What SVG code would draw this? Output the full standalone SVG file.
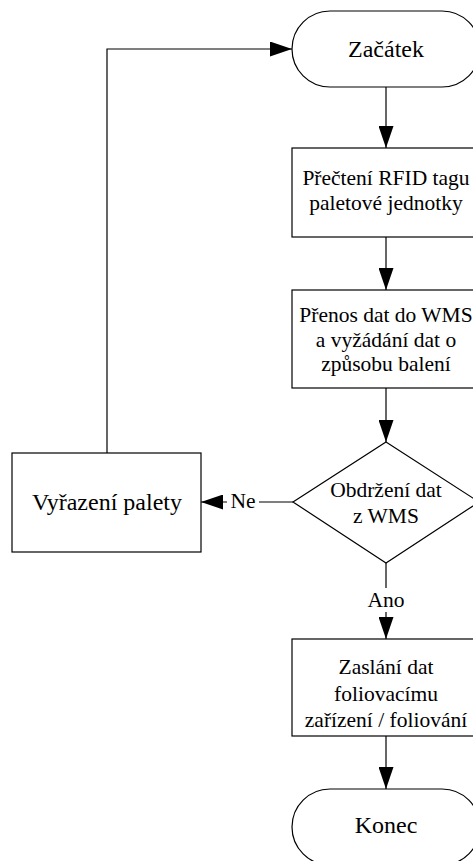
<svg xmlns="http://www.w3.org/2000/svg" width="473" height="861" viewBox="0 0 473 861">
  <style>
    .shape { fill: #ffffff; stroke: #000000; stroke-width: 1.2; }
    .line { fill: none; stroke: #000000; stroke-width: 1.2; }
    text { font-family: "Liberation Serif", "Times New Roman", serif; font-size: 21.5px; fill: #000000; text-anchor: middle; }
    .big { font-size: 24px; }
  </style>
  <defs>
    <marker id="arrow" viewBox="0 0 22 15" refX="22" refY="7.5" markerWidth="22" markerHeight="15" markerUnits="userSpaceOnUse" orient="auto">
      <path d="M0,0 L22,7.5 L0,15 Z" fill="#000000"/>
    </marker>
  </defs>
  <rect width="473" height="861" fill="#ffffff"/>

  <g id="connectors">
    <line class="line" x1="386" y1="87" x2="386" y2="148" marker-end="url(#arrow)"/>
    <line class="line" x1="386" y1="237" x2="386" y2="290" marker-end="url(#arrow)"/>
    <line class="line" x1="386" y1="388" x2="386" y2="442" marker-end="url(#arrow)"/>
    <line class="line" x1="293" y1="502" x2="201" y2="502" marker-end="url(#arrow)"/>
    <line class="line" x1="386" y1="563" x2="386" y2="639" marker-end="url(#arrow)"/>
    <line class="line" x1="386" y1="736" x2="386" y2="789" marker-end="url(#arrow)"/>
    <polyline class="line" points="107,453 107,49 292,49" marker-end="url(#arrow)"/>
    <!-- label backgrounds interrupt the connector lines -->
    <rect x="227" y="490" width="32" height="22" fill="#ffffff"/>
    <text x="243" y="508">Ne</text>
    <rect x="366" y="588" width="40" height="24" fill="#ffffff"/>
    <text x="386" y="607">Ano</text>
  </g>

  <g id="start">
    <rect class="shape" x="292" y="11" width="188" height="76" rx="38" ry="38"/>
    <text class="big" x="386" y="57">Začátek</text>
  </g>

  <g id="read-rfid">
    <rect class="shape" x="292" y="148" width="188" height="89"/>
    <text x="386" y="185">Přečtení RFID tagu</text>
    <text x="386" y="210">paletové jednotky</text>
  </g>

  <g id="transfer-data">
    <rect class="shape" x="292" y="290" width="188" height="98"/>
    <text x="386" y="322">Přenos dat do WMS</text>
    <text x="386" y="347">a vyžádání dat o</text>
    <text x="386" y="371">způsobu balení</text>
  </g>

  <g id="decision">
    <polygon class="shape" points="386,442 479,502 386,563 293,502"/>
    <text x="386" y="497">Obdržení dat</text>
    <text x="386" y="523">z WMS</text>
  </g>

  <g id="reject">
    <rect class="shape" x="12" y="453" width="189" height="99"/>
    <text class="big" x="107" y="510">Vyřazení palety</text>
  </g>

  <g id="wrap">
    <rect class="shape" x="292" y="639" width="188" height="97"/>
    <text x="386" y="674">Zaslání dat</text>
    <text x="386" y="701">foliovacímu</text>
    <text x="386" y="727">zařízení / foliování</text>
  </g>

  <g id="end">
    <rect class="shape" x="292" y="789" width="188" height="76" rx="38" ry="38"/>
    <text class="big" x="386" y="833">Konec</text>
  </g>
</svg>
